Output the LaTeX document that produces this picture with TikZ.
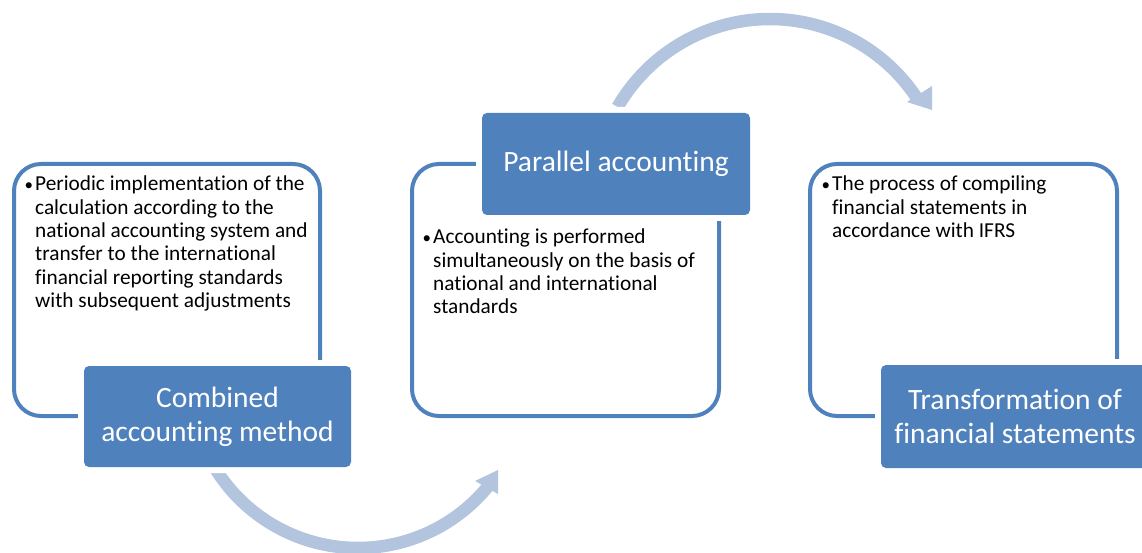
\documentclass[tikz,border=0pt]{standalone}
\usepackage{fontspec}
\setmainfont[RawFeature={-liga;-clig;-dlig;-calt}]{Carlito}
\definecolor{accent}{HTML}{4F81BD}
\definecolor{arrowc}{HTML}{B3C4DF}
\tikzset{
  outerbox/.style={draw=accent, line width=4pt, rounded corners=27pt, inner sep=0pt},
  bluebox/.style={fill=accent, rounded corners=5pt, text=white, align=center, inner sep=0pt,
    font=\fontsize{29.5}{34}\selectfont, preaction={draw=white, line width=12pt}},
  bodytext/.style={anchor=north west, align=left, inner sep=0pt, font=\fontsize{21.3}{23.3}\selectfont},
  arrowshaft/.style={draw=arrowc, line width=12.5pt},
  arrowhead/.style={fill=arrowc}
}
\newcommand{\bul}{\llap{\fontsize{17}{17}\selectfont•\hspace{2pt}}}
\begin{document}
\begin{tikzpicture}[x=1pt,y=-1pt]
\useasboundingbox (0,0) rectangle (1142,553);
% outer frames
\node[outerbox, minimum width=306pt, minimum height=252pt] (f1) at (167,290) {};
\node[outerbox, minimum width=307pt, minimum height=252pt] (f2) at (565.5,290) {};
\node[outerbox, minimum width=307pt, minimum height=252pt] (f3) at (963.5,290) {};
% arrows
\draw[arrowshaft] plot[domain=148:38, samples=80] ({358+168*cos(\x)}, {380+168*sin(\x)});
\fill[arrowhead] (475,481) -- (498,470) -- (498,494) -- cycle;
\draw[arrowshaft] plot[domain=210:327, samples=80] ({770+176*cos(\x)}, {195+176*sin(\x)});
\fill[arrowhead] (907,102) -- (932,86) -- (932,110) -- cycle;
% blue title boxes
\node[bluebox, minimum width=267pt, minimum height=101pt] (t1) at (217.5,416.5) {Combined\\accounting method};
\node[bluebox, minimum width=268pt, minimum height=102pt] (t2) at (616,164) {Parallel accounting};
\node[bluebox, minimum width=268pt, minimum height=103pt] (t3) at (1015,416.5) {Transformation of\\financial statements};
% body texts
\node[bodytext] (b1) at (35,176) {\bul Periodic implementation of the\\calculation according to the\\national accounting system and\\transfer to the international\\financial reporting standards\\with subsequent adjustments};
\node[bodytext] (b2) at (433,229) {\bul Accounting is performed\\simultaneously on the basis of\\national and international\\standards};
\node[bodytext] (b3) at (832,176) {\bul The process of compiling\\financial statements in\\accordance with IFRS};
\end{tikzpicture}
\end{document}
